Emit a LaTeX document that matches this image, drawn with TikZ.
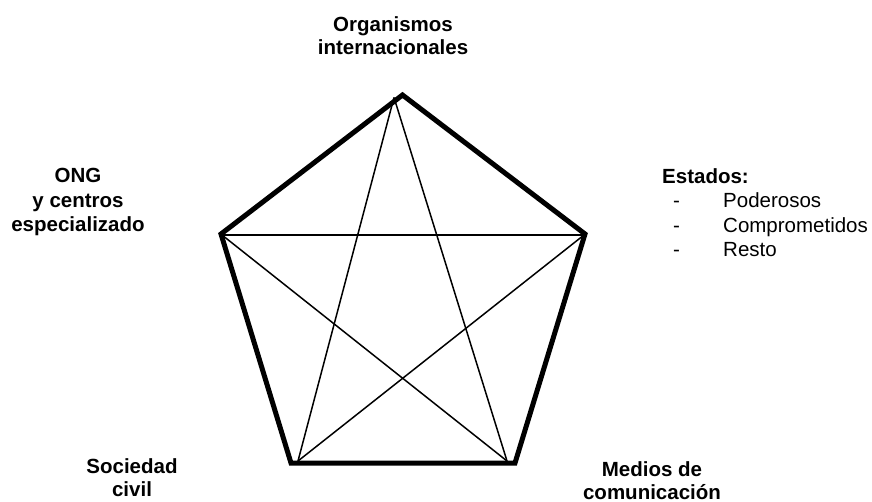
\documentclass[tikz,border=0pt]{standalone}
\usepackage{fontspec}
\setmainfont{Liberation Sans}
\begin{document}
\begin{tikzpicture}[x=1pt,y=-1pt,
  outline/.style={line width=5pt,line join=miter},
  diag/.style={line width=1.5pt},
  lbl/.style={font=\fontsize{20.5}{23}\selectfont\bfseries,align=center,inner sep=0pt,anchor=north},
  list/.style={font=\fontsize{20.5}{24.5}\selectfont,align=left,inner sep=0pt,anchor=north west}]
\useasboundingbox (0,0) rectangle (872,502);
% pentagon outline
\coordinate (T) at (402.5,95);
\coordinate (R) at (585,234);
\coordinate (BR) at (515,463);
\coordinate (BL) at (291,463);
\coordinate (L) at (221,234);
% star points
\coordinate (t) at (394,97.5);
\coordinate (r) at (584,235);
\coordinate (br) at (507,461);
\coordinate (bl) at (298,461);
\coordinate (l) at (222,235);
\draw[outline] (T) -- (R) -- (BR) -- (BL) -- (L) -- cycle;
\draw[diag] (t) -- (bl);
\draw[diag] (t) -- (br);
\draw[diag] (l) -- (r);
\draw[diag] (l) -- (br);
\draw[diag] (r) -- (bl);
% labels
\node[lbl] (org) at (393,16) {Organismos\\internacionales};
\node[lbl,font=\fontsize{20.5}{24.5}\selectfont\bfseries] (ong) at (78,168) {ONG\\y centros\\especializado};
\node[lbl] (soc) at (132,458) {Sociedad\\civil};
\node[lbl] (med) at (652,461) {Medios de\\comunicación};
\node[list] (est) at (662,168) {\textbf{Estados:}\\
\hspace*{11pt}\makebox[50pt][l]{-}Poderosos\\
\hspace*{11pt}\makebox[50pt][l]{-}Comprometidos\\
\hspace*{11pt}\makebox[50pt][l]{-}Resto};
\end{tikzpicture}
\end{document}
